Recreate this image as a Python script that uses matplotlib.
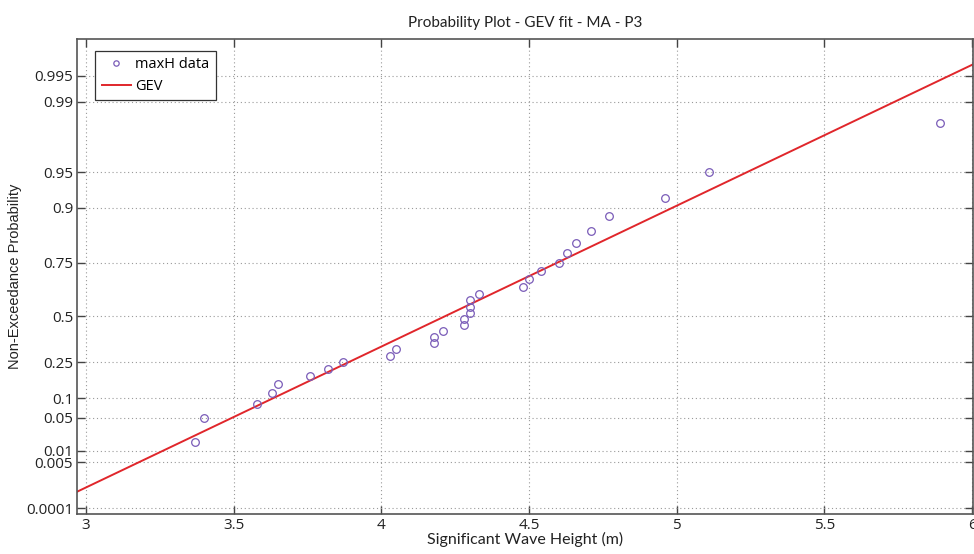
import numpy as np
import matplotlib
matplotlib.use("Agg")
import matplotlib.pyplot as plt

# Annual maxima of significant wave height (m) and their plotting positions
wave_height = [3.37, 3.40, 3.58, 3.63, 3.65, 3.76, 3.82, 3.87, 4.03, 4.05,
               4.18, 4.18, 4.21, 4.28, 4.28, 4.30, 4.30, 4.30, 4.33, 4.48,
               4.50, 4.54, 4.60, 4.63, 4.66, 4.71, 4.77, 4.96, 5.11, 5.89]
non_exceedance = [0.0167, 0.0500, 0.0833, 0.1167, 0.1500, 0.1833, 0.2167, 0.2500,
                  0.2833, 0.3167, 0.3500, 0.3833, 0.4167, 0.4500, 0.4833, 0.5167,
                  0.5500, 0.5833, 0.6167, 0.6500, 0.6833, 0.7167, 0.7500, 0.7833,
                  0.8167, 0.8500, 0.8833, 0.9167, 0.9500, 0.9833]

# Fitted GEV parameters (location, scale, shape)
gev_loc = 4.047
gev_scale = 0.472
gev_shape = -0.114

prob_ticks = [0.0001, 0.005, 0.01, 0.05, 0.1, 0.25, 0.5, 0.75, 0.9, 0.95, 0.99, 0.995]
prob_labels = ["0.0001", "0.005", "0.01", "0.05", "0.1", "0.25", "0.5", "0.75",
               "0.9", "0.95", "0.99", "0.995"]
height_ticks = [3, 3.5, 4, 4.5, 5, 5.5, 6]


def gev_quantile(p):
    p = np.clip(np.asarray(p, dtype=float), 1e-12, 1 - 1e-12)
    z = -np.log(-np.log(p))
    return gev_loc + gev_scale * (np.exp(gev_shape * z) - 1.0) / gev_shape


def gev_cdf(x):
    x = np.asarray(x, dtype=float)
    t = 1.0 + gev_shape * (x - gev_loc) / gev_scale
    t = np.clip(t, 1e-12, None)
    return np.exp(-t ** (-1.0 / gev_shape))


fig = plt.figure(figsize=(9.74, 5.54), dpi=100)
ax = fig.add_axes([0.0794, 0.0717, 0.9196, 0.8579])

ax.set_yscale("function", functions=(gev_quantile, gev_cdf))

xs = np.linspace(2.9, 6.1, 200)
ax.plot(wave_height, non_exceedance, linestyle="none", marker="o", markersize=5.5,
        markerfacecolor="none", markeredgecolor="#7a5cb8", markeredgewidth=0.9,
        label="maxH data", zorder=3)
ax.plot(xs, gev_cdf(xs), color="#e0262b", linewidth=1.4, label="GEV", zorder=2)

ax.set_xlim(2.971, 6.003)
ax.set_ylim(gev_cdf(2.810), gev_cdf(6.183))

ax.set_xticks(height_ticks)
ax.set_xticklabels([f"{v:g}" for v in height_ticks], fontsize=11, family="Open Sans")
ax.set_yticks(prob_ticks)
ax.set_yticklabels(prob_labels, fontsize=11, family="Open Sans")
ax.yaxis.set_minor_locator(matplotlib.ticker.NullLocator())
ax.xaxis.set_minor_locator(matplotlib.ticker.NullLocator())

ax.tick_params(direction="in", length=6, width=1.0, color="#444444",
               top=True, right=True, pad=3, labelcolor="#222222")
ax.grid(True, linestyle=(0, (1, 2.5)), color="#9a9a9a", linewidth=0.8)
for side in ax.spines.values():
    side.set_color("#555555")
    side.set_linewidth(1.2)

ax.set_title("Probability Plot - GEV fit - MA - P3", fontsize=11,
             family="Lato", color="#222222", pad=9)
ax.set_xlabel("Significant Wave Height (m)", fontsize=11.5, family="Lato",
              color="#222222", labelpad=-1)
ax.set_ylabel("Non-Exceedance Probability", fontsize=10.5,
              family="Liberation Sans", color="#222222", labelpad=3)

leg = ax.legend(loc="upper left", bbox_to_anchor=(0.015, 0.985), frameon=True,
                fancybox=False, framealpha=1, edgecolor="#333333",
                prop={"family": "Open Sans", "size": 10.5},
                handlelength=2.0, handletextpad=0.3, borderpad=0.45,
                labelspacing=0.45, markerscale=0.7, borderaxespad=0.3)
leg.get_frame().set_linewidth(0.9)

fig.savefig("out.png", dpi=100)
